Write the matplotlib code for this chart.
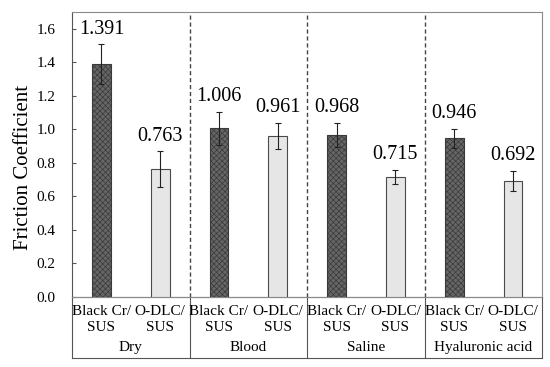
import matplotlib
matplotlib.use("Agg")
import matplotlib.pyplot as plt
import numpy as np

plt.rcParams['font.family'] = ['Liberation Serif', 'DejaVu Serif']
plt.rcParams['hatch.linewidth'] = 0.5
plt.rcParams['hatch.color'] = '#858585'

groups = ["Dry", "Blood", "Saline", "Hyaluronic acid"]
pair_labels = ["Black Cr/\nSUS", "O-DLC/\nSUS"]
black_cr = [1.391, 1.006, 0.968, 0.946]
odlc = [0.763, 0.961, 0.715, 0.692]
black_cr_err = [0.118, 0.100, 0.072, 0.057]
odlc_err = [0.105, 0.080, 0.043, 0.062]

fig = plt.figure(figsize=(5.5, 3.67), dpi=100)
ax = fig.add_axes([0.131, 0.191, 0.855, 0.776])

n = len(groups)
x_dark = np.arange(n) * 2 + 0.5
x_light = np.arange(n) * 2 + 1.5
w = 0.32

ax.bar(x_dark, black_cr, width=w, color='#666666', edgecolor='#3a3a3a',
       linewidth=0.8, hatch='xxxxxx', zorder=3)
ax.bar(x_light, odlc, width=w, color='#e6e6e6', edgecolor='#4a4a4a',
       linewidth=0.8, zorder=3)
ax.errorbar(x_dark, black_cr, yerr=black_cr_err, fmt='none', ecolor='#222222',
            elinewidth=0.8, capsize=2.5, capthick=0.8, zorder=4)
ax.errorbar(x_light, odlc, yerr=odlc_err, fmt='none', ecolor='#222222',
            elinewidth=0.8, capsize=2.5, capthick=0.8, zorder=4)

for xs, vals, errs in ((x_dark, black_cr, black_cr_err), (x_light, odlc, odlc_err)):
    for xi, v, e in zip(xs, vals, errs):
        ax.annotate(f"{v:.3f}", (xi, v + e), xytext=(0, 4), textcoords='offset points',
                    ha='center', va='bottom', fontsize=14.5, color='black')

ax.set_xlim(0, 2 * n)
ax.set_ylim(0, 1.7)
ticks = np.arange(0, 1.61, 0.2)
ax.set_yticks(ticks)
ax.set_yticklabels([f"{t:.1f}" for t in ticks], fontsize=11)
ax.tick_params(axis='y', direction='in', length=3, width=0.8, color='#555555', pad=12)
ax.set_xticks([])
for s in ax.spines.values():
    s.set_color('#8a8a8a')
    s.set_linewidth(0.8)
ax.spines['left'].set_color('#555555')
ax.set_ylabel("Friction Coefficient", fontsize=15)
ax.yaxis.set_label_coords(-0.083, 0.456)

for b in range(1, n):
    ax.axvline(2 * b, color='#444444', linestyle=(0, (3, 2)), linewidth=1.0, zorder=2)

# category table below axis
trans = ax.get_xaxis_transform()
ybot = -0.214
ax.plot([0, 2 * n], [ybot, ybot], transform=trans, color='#555555', lw=0.8, clip_on=False)
ax.plot([0, 2 * n], [0, 0], transform=trans, color='#555555', lw=0.8, clip_on=False)
for b in range(0, n + 1):
    ax.plot([2 * b, 2 * b], [0, ybot], transform=trans, color='#555555', lw=0.8, clip_on=False)
for i, g in enumerate(groups):
    ax.text(2 * i + 1, -0.179, g, transform=trans, ha='center', va='center', fontsize=11)
    for j, pl in enumerate(pair_labels):
        ax.text(2 * i + 0.5 + j, -0.080, pl, transform=trans, ha='center', va='center',
                fontsize=11, linespacing=1.3)

fig.savefig("out.png", dpi=100)
